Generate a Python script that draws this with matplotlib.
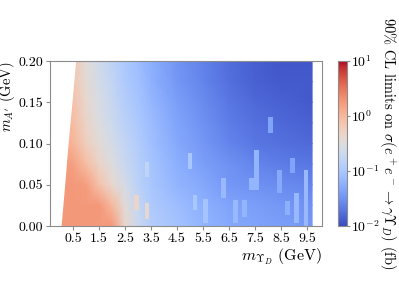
import matplotlib
matplotlib.use('agg')
import matplotlib.pyplot as plt
import numpy as np
from matplotlib.colors import LogNorm

plt.rcParams['font.family'] = 'serif'
plt.rcParams['font.serif'] = ['cmr10']
plt.rcParams['mathtext.fontset'] = 'cm'
plt.rcParams['axes.formatter.use_mathtext'] = True
plt.rcParams['axes.unicode_minus'] = False

# grid of log10(limit / fb)
m_ups = [0.0, 0.5, 1.0, 1.5, 2.0, 2.5, 3.0, 3.5, 4.5, 5.5, 6.5, 7.5, 8.5, 9.7]
m_ap = [0.0, 0.025, 0.05, 0.075, 0.1, 0.125, 0.15, 0.175, 0.2]
log_limit = [
    [0.25, 0.25, 0.25, 0.25, 0.25, -0.35, -0.7, -0.9, -1.05, -1.2, -1.3, -1.35, -1.4, -1.45],
    [0.25, 0.25, 0.25, 0.25, 0.0, -0.45, -0.75, -0.95, -1.1, -1.25, -1.35, -1.4, -1.45, -1.5],
    [0.25, 0.25, 0.22, -0.1, -0.38, -0.6, -0.85, -1.0, -1.2, -1.3, -1.45, -1.5, -1.55, -1.6],
    [0.25, 0.2, -0.05, -0.32, -0.52, -0.72, -0.88, -1.02, -1.25, -1.4, -1.5, -1.6, -1.65, -1.7],
    [0.15, 0.02, -0.25, -0.45, -0.6, -0.78, -0.92, -1.08, -1.3, -1.45, -1.6, -1.7, -1.75, -1.8],
    [0.1, -0.05, -0.33, -0.52, -0.68, -0.85, -0.98, -1.12, -1.35, -1.5, -1.65, -1.75, -1.8, -1.85],
    [0.05, -0.1, -0.38, -0.57, -0.73, -0.9, -1.02, -1.17, -1.4, -1.55, -1.7, -1.8, -1.85, -1.9],
    [0.02, -0.14, -0.42, -0.61, -0.78, -0.95, -1.07, -1.22, -1.45, -1.6, -1.75, -1.85, -1.9, -1.9],
    [0.0, -0.17, -0.46, -0.65, -0.82, -0.98, -1.1, -1.25, -1.48, -1.62, -1.77, -1.87, -1.92, -1.92],
]

# lower kinematic edge of the scan (white region on the left)
edge_y = [0.0, 0.05, 0.1, 0.15, 0.2]
edge_x = [0.04, 0.18, 0.31, 0.46, 0.6]

# local fluctuations (bright vertical patches)
spot_x = [3.35, 2.95, 3.35, 5.0, 5.2, 5.6, 6.3, 6.75, 7.1, 7.55, 7.37, 8.1, 8.45, 8.95, 8.75, 9.1, 9.47]
spot_lo = [0.060, 0.019, 0.008, 0.069, 0.019, 0.004, 0.034, 0.004, 0.011, 0.044, 0.044, 0.113, 0.040, 0.064, 0.013, 0.004, 0.0]
spot_hi = [0.078, 0.038, 0.028, 0.088, 0.038, 0.033, 0.058, 0.032, 0.032, 0.092, 0.058, 0.132, 0.068, 0.082, 0.030, 0.040, 0.068]
spot_val = [-0.8, -0.35, -0.4, -1.0, -1.0, -1.05, -1.15, -1.15, -1.2, -1.2, -1.2, -1.35, -1.3, -1.35, -1.25, -1.15, -1.15]

xticks = [0.5, 1.5, 2.5, 3.5, 4.5, 5.5, 6.5, 7.5, 8.5, 9.5]

cmap = plt.get_cmap('coolwarm')
norm = LogNorm(vmin=1e-2, vmax=1e1)

fig = plt.figure(figsize=(3.99, 2.87), dpi=100)
ax = fig.add_axes([0.1253, 0.2125, 0.6817, 0.5749])
cax = fig.add_axes([0.847, 0.2125, 0.0226, 0.5749])

X, Y = np.meshgrid(m_ups, m_ap)
Z = 10 ** np.array(log_limit)
mesh = ax.pcolormesh(X, Y, Z, cmap=cmap, norm=norm, shading='gouraud', rasterized=True)

for x, lo, hi, v in zip(spot_x, spot_lo, spot_hi, spot_val):
    ax.bar(x, hi - lo, bottom=lo, width=0.18, color=cmap(norm(10 ** v)), linewidth=0)

ax.fill_betweenx(edge_y, -1, edge_x, color='white', linewidth=0, zorder=3)

ax.set_xlim(-0.385, 10.08)
ax.set_ylim(0, 0.2)
ax.set_xticks(xticks)
ax.set_xticklabels([str(t) for t in xticks])
ax.set_yticks([0.0, 0.05, 0.1, 0.15, 0.2])
ax.set_yticklabels(['0.00', '0.05', '0.10', '0.15', '0.20'])
ax.set_xlabel(r'$m_{\Upsilon_D}$ (GeV)', fontsize=11.5, labelpad=1, loc='right')
ax.set_ylabel(r"$m_{A'}$ (GeV)", fontsize=10.5, loc='top')
ax.yaxis.set_label_coords(-0.122, 1.0)
ax.tick_params(labelsize=10, color='0.55', length=3, pad=2)
for s in ax.spines.values():
    s.set_color('0.55')
    s.set_zorder(5)

cb = fig.colorbar(mesh, cax=cax)
cb.set_label(r'90% CL limits on $\sigma(e^+e^- \to \gamma\Upsilon_D)$ (fb)', rotation=270, fontsize=10.4, labelpad=13)
cb.ax.tick_params(labelsize=10, color='0.55', length=2, pad=1)
cb.ax.minorticks_off()
cb.outline.set_edgecolor('0.55')

fig.savefig('out.png', dpi=100)
